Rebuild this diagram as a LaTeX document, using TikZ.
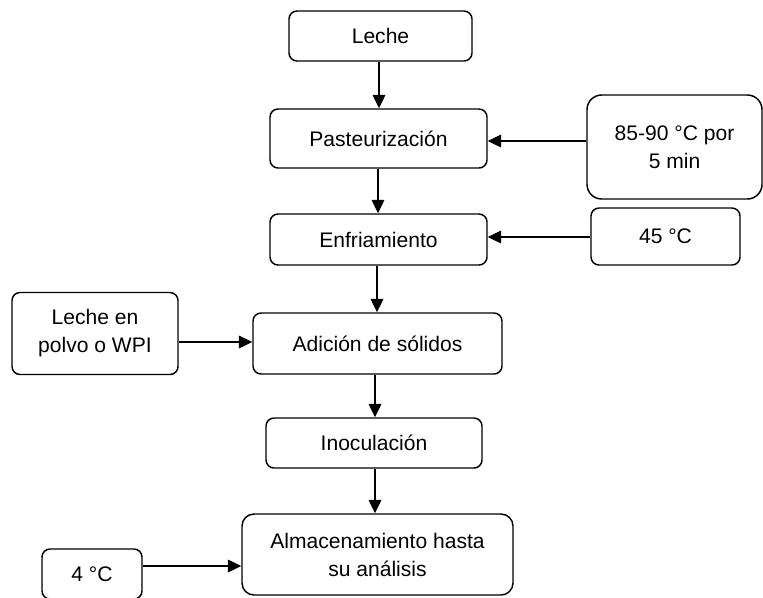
\documentclass[tikz,border=0pt]{standalone}
\usepackage{fontspec}
\setmainfont{Liberation Sans}
\usetikzlibrary{arrows.meta}
\begin{document}
\begin{tikzpicture}[x=0.75pt,y=-0.75pt,
  box/.style={draw=black, line width=1.1pt, rounded corners=6pt, align=center,
    font=\fontsize{15.8pt}{21pt}\selectfont, inner sep=0pt, anchor=center},
  arr/.style={draw=black, line width=0.9pt, -{Triangle[length=10pt,width=9.5pt]}}]
\clip (0,0) rectangle (763,597);
\fill[white] (0,0) rectangle (763,597);
\node[box, minimum width=183*0.75pt, minimum height=50*0.75pt] (leche) at (380.5,36) {Leche};
\node[box, minimum width=217*0.75pt, minimum height=59*0.75pt] (past) at (378.5,138.5) {Pasteurización};
\node[box, minimum width=217*0.75pt, minimum height=51*0.75pt] (enf) at (378.5,239.5) {Enfriamiento};
\node[box, rounded corners=11pt, minimum width=175*0.75pt, minimum height=104*0.75pt] (hot) at (674.5,147) {85-90 °C por\\5 min};
\node[box, minimum width=149*0.75pt, minimum height=57*0.75pt] (t45) at (665.5,236.5) {45 °C};
\node[box, minimum width=166*0.75pt, minimum height=82*0.75pt] (polvo) at (95,333.5) {Leche en\\polvo o WPI};
\node[box, minimum width=249*0.75pt, minimum height=61*0.75pt] (adic) at (377.5,343.5) {Adición de sólidos};
\node[box, minimum width=216*0.75pt, minimum height=50*0.75pt] (inoc) at (374,443) {Inoculación};
\node[box, rounded corners=9pt, minimum width=271*0.75pt, minimum height=81*0.75pt] (alm) at (377.5,554.5) {Almacenamiento hasta\\su análisis};
\node[box, minimum width=100*0.75pt, minimum height=50*0.75pt] (t4) at (92,574) {4 °C};
\draw[arr] (leche.south -| 379,0) -- (past.north -| 379,0);
\draw[arr] (past.south -| 378,0) -- (enf.north -| 378,0);
\draw[arr] (enf.south -| 377,0) -- (adic.north -| 377,0);
\draw[arr] (adic.south -| 375,0) -- (inoc.north -| 375,0);
\draw[arr] (inoc.south -| 375,0) -- (alm.north -| 375,0);
\draw[arr] (hot.west |- 0,141) -- (past.east |- 0,141);
\draw[arr] (t45.west |- 0,237) -- (enf.east |- 0,237);
\draw[arr] (polvo.east |- 0,342) -- (adic.west |- 0,342);
\draw[arr] (t4.east |- 0,566) -- (alm.west |- 0,566);
\end{tikzpicture}
\end{document}
